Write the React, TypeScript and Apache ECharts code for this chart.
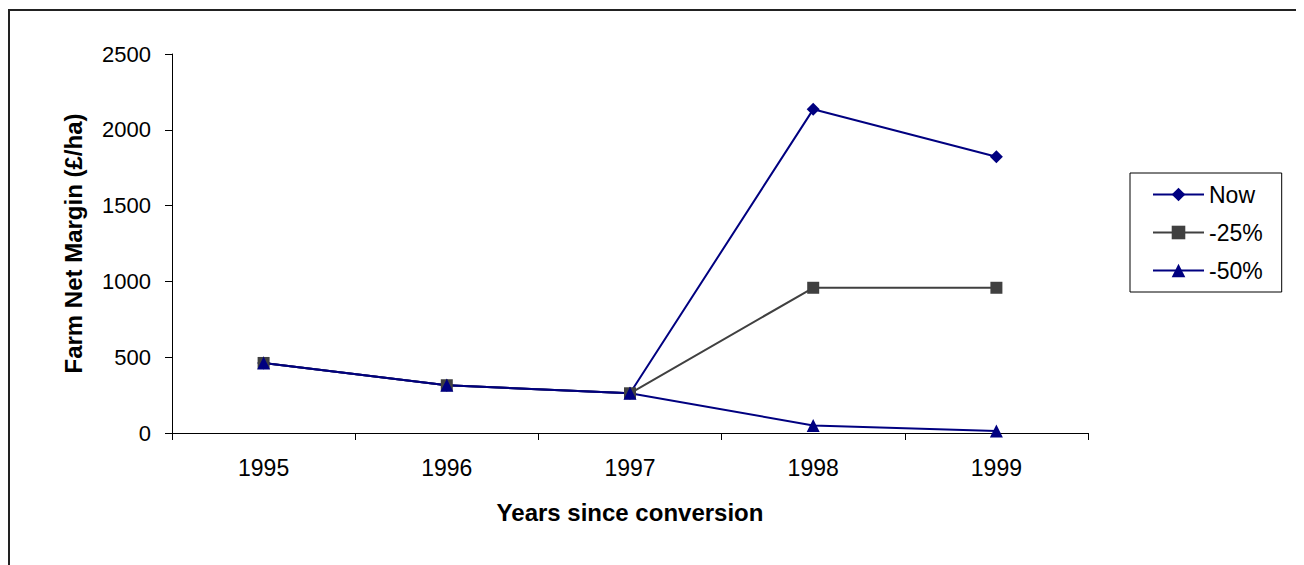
import React, { useEffect, useRef } from "react";
import * as echarts from "echarts";

const years = ["1995", "1996", "1997", "1998", "1999"];
const nowValues = [462, 315, 262, 2135, 1822];
const minus25Values = [462, 315, 262, 958, 958];
const minus50Values = [462, 315, 262, 50, 13];
const seriesNames = ["Now", "-25%", "-50%"];

const FONT = "'Liberation Sans', Arial, sans-serif";

export default function App() {
  const ref = useRef<HTMLDivElement>(null);
  useEffect(() => {
    if (!ref.current) return;
    const chart = echarts.init(ref.current, undefined, { renderer: "svg" });
    chart.setOption({
      animation: false,
      backgroundColor: "#ffffff",
      textStyle: { fontFamily: FONT },
      graphic: [
        { type: "line", shape: { x1: 0, y1: 2, x2: 1400, y2: 2 }, style: { stroke: "#222", lineWidth: 2 } },
        { type: "line", shape: { x1: 1, y1: 1, x2: 1, y2: 700 }, style: { stroke: "#222", lineWidth: 2 } },
      ],
      grid: { left: 164, top: 46, right: 216, bottom: 132, containLabel: false },
      legend: {
        orient: "vertical",
        left: 1122,
        top: 165,
        data: seriesNames,
        borderColor: "#000",
        borderWidth: 1,
        padding: [10, 19, 10, 22],
        itemWidth: 51,
        itemHeight: 17,
        itemGap: 15,
        textStyle: { fontSize: 23, color: "#000", fontFamily: FONT },
      },
      xAxis: {
        type: "category",
        data: years,
        boundaryGap: true,
        axisLine: { lineStyle: { color: "#000", width: 1 } },
        axisTick: { show: true, length: 7, lineStyle: { color: "#000" } },
        axisLabel: { fontSize: 23, color: "#000", margin: 23, fontFamily: FONT },
        name: "Years since conversion",
        nameLocation: "middle",
        nameGap: 67,
        nameTextStyle: { fontSize: 24, fontWeight: "bold", color: "#000", fontFamily: FONT },
        splitLine: { show: false },
      },
      yAxis: {
        type: "value",
        min: 0,
        max: 2500,
        interval: 500,
        axisLine: { show: true, lineStyle: { color: "#000", width: 1 } },
        axisTick: { show: true, length: 7, lineStyle: { color: "#000" } },
        axisLabel: {
          fontSize: 22,
          color: "#000",
          margin: 21,
          fontFamily: FONT,
          formatter: (v: number) => String(v),
        },
        splitLine: { show: false },
        name: "Farm Net Margin (£/ha)",
        nameLocation: "middle",
        nameRotate: 90,
        nameGap: 87,
        nameTextStyle: { fontSize: 24, fontWeight: "bold", color: "#000", fontFamily: FONT },
      },
      series: [
        {
          name: seriesNames[0],
          type: "line",
          data: nowValues,
          symbol: "diamond",
          symbolSize: 13,
          itemStyle: { color: "#000080" },
          lineStyle: { color: "#000080", width: 2 },
        },
        {
          name: seriesNames[1],
          type: "line",
          data: minus25Values,
          symbol: "rect",
          symbolSize: 12,
          itemStyle: { color: "#404040" },
          lineStyle: { color: "#404040", width: 2 },
        },
        {
          name: seriesNames[2],
          type: "line",
          data: minus50Values,
          symbol: "triangle",
          symbolSize: 13,
          itemStyle: { color: "#000080" },
          lineStyle: { color: "#000080", width: 2 },
        },
      ],
    });
    return () => chart.dispose();
  }, []);
  return <div ref={ref} style={{ width: 1296, height: 557 }} />;
}
